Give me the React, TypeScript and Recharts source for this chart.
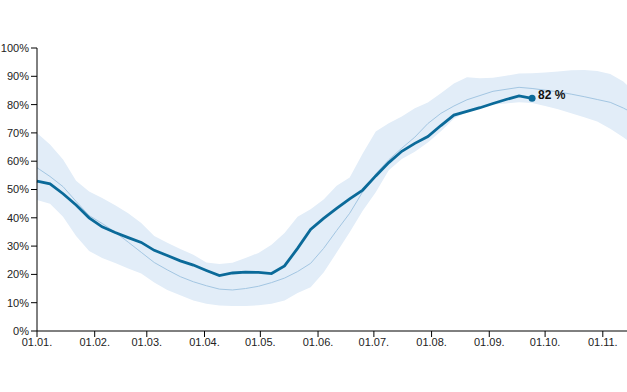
import * as React from "react";
import { ComposedChart, Area, Line, XAxis, YAxis } from "recharts";

// day of year for each weekly sample
const days = [
  0, 7, 14, 21, 28, 35, 42, 49, 56, 63, 70, 77, 84, 91, 98, 105, 112, 119, 126, 133,
  140, 147, 154, 161, 168, 175, 182, 189, 196, 203, 210, 217, 224, 231, 238, 245, 252,
  259, 266, 273, 280, 287, 294, 301, 308, 315, 317,
];

// current year (ends at last observation)
const current = [
  53, 52, 48.5, 44.5, 40, 36.8, 34.8, 33, 31.3, 28.5, 26.7, 24.8, 23.3, 21.4, 19.6, 20.5,
  20.8, 20.7, 20.3, 23, 29.2, 35.9, 39.8, 43.3, 46.7, 49.8, 54.8, 59.5, 63.5, 66.3, 68.7,
  72.6, 76.3, 77.6, 78.9, 80.4, 81.8, 83.1, 82.2,
];

// median of previous years
const median = [
  57.7, 54.6, 51, 45.8, 40.8, 38, 34.9, 31.4, 27.8, 24.2, 21.6, 19.2, 17.4, 16, 14.8, 14.5,
  15, 15.8, 17.1, 18.7, 21, 23.9, 29.2, 35.5, 41.6, 49.2, 55.5, 60.5, 64.6, 68.5, 73.3,
  76.9, 79.5, 81.7, 83.2, 84.7, 85.4, 86.1, 85.7, 85.1, 84.5, 83.7, 82.8, 81.8, 80.8, 78.8,
  78.1,
];

// min / max range of previous years
const upper = [
  70, 65.9, 60.6, 53.1, 49.3, 47, 44.4, 41.6, 38.2, 33.6, 31.2, 29, 26.9, 24.2, 23.7, 24.1,
  25.8, 27.6, 30.5, 34.6, 40.4, 43, 46.5, 51.3, 54.2, 62.7, 70.5, 73.4, 75.8, 78.7, 80.7,
  84, 87.5, 89.7, 89.3, 89.5, 90.2, 91, 91.1, 91.3, 91.7, 92.1, 92.2, 91.9, 90.8, 88.2,
  86.9,
];
const lower = [
  46.3, 45, 40.4, 33.6, 28.3, 25.8, 24, 22.1, 20.3, 17.1, 14.5, 12.6, 10.8, 9.6, 9, 8.8,
  8.8, 9.1, 9.6, 10.8, 13.4, 15.5, 20.7, 27.7, 34.9, 42.5, 49, 56.8, 60.8, 63.3, 66.6,
  70.6, 75, 77.5, 79.2, 80, 80.4, 80.8, 80.6, 79.5, 78.4, 76.9, 75.5, 74, 71.5, 68.5, 67.5,
];

const monthTicks = [0, 31, 59, 90, 120, 151, 181, 212, 243, 273, 304];
const monthLabels = [
  "01.01.", "01.02.", "01.03.", "01.04.", "01.05.", "01.06.",
  "01.07.", "01.08.", "01.09.", "01.10.", "01.11.",
];
const pctTicks = [0, 10, 20, 30, 40, 50, 60, 70, 80, 90, 100];

const data = days.map((d, i) => ({
  day: d,
  current: i < current.length ? current[i] : null,
  median: median[i],
  band: [lower[i], upper[i]],
}));

const lastIdx = current.length - 1;
const font = "'Liberation Sans', Arial, sans-serif";

function EndDot(props: any) {
  const { cx, cy, index } = props;
  if (index !== lastIdx || cx == null) return null;
  return <circle cx={cx} cy={cy} r={3.5} fill="#0b6a99" />;
}

function EndLabel(props: any) {
  const { x, y, index, value } = props;
  if (index !== lastIdx || value == null) return null;
  return (
    <text x={x + 6} y={y + 1} fontSize={12} fontWeight="bold" fontFamily={font} fill="#111">
      {Math.round(value)} %
    </text>
  );
}

export default function App() {
  return (
    <div style={{ position: "absolute", left: 0, top: 0 }}>
      <ComposedChart
        width={627}
        height={392}
        data={data}
        margin={{ top: 48, right: 0, bottom: 31, left: 0 }}
      >
        <XAxis
          dataKey="day"
          type="number"
          domain={[0, 317]}
          ticks={monthTicks}
          tickFormatter={(v) => monthLabels[monthTicks.indexOf(v)]}
          height={30}
          tickSize={6}
          tickMargin={1}
          stroke="#000"
          tick={{ fontSize: 11, fill: "#222", fontFamily: font }}
          interval={0}
        />
        <YAxis
          type="number"
          domain={[0, 100]}
          ticks={pctTicks}
          tickFormatter={(v) => `${v}%`}
          width={37}
          tickSize={6}
          tickMargin={2}
          stroke="#000"
          tick={{ fontSize: 11, fill: "#222", fontFamily: font }}
          interval={0}
        />
        <Area
          dataKey="band"
          type="linear"
          stroke="none"
          fill="#e2edf8"
          fillOpacity={1}
          isAnimationActive={false}
        />
        <Line
          dataKey="median"
          type="linear"
          stroke="#a3c6e2"
          strokeWidth={1}
          dot={false}
          isAnimationActive={false}
        />
        <Line
          dataKey="current"
          type="linear"
          stroke="#0b6a99"
          strokeWidth={2.8}
          dot={<EndDot />}
          activeDot={false}
          label={<EndLabel />}
          isAnimationActive={false}
        />
      </ComposedChart>
    </div>
  );
}
